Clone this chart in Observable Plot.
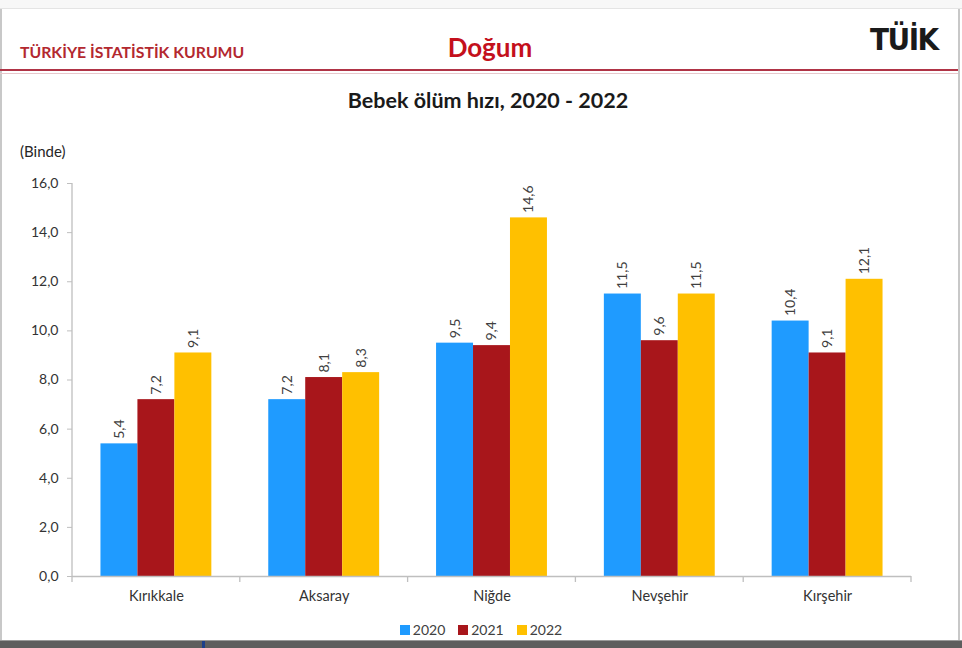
<!DOCTYPE html>
<html>
<head>
<meta charset="utf-8">
<script src="https://cdn.jsdelivr.net/npm/d3@7"></script>
<script src="https://cdn.jsdelivr.net/npm/@observablehq/plot@0.6"></script>
<style>
  html, body { margin: 0; padding: 0; background: #ffffff; }
  body { width: 962px; height: 648px; position: relative; overflow: hidden; font-family: Lato, "Open Sans", sans-serif; }
  .abs { position: absolute; white-space: nowrap; }
  #topstrip { left: 0; top: 0; width: 962px; height: 8px; background: #f7f7f7; border-bottom: 1px solid #e4e4e4; }
  #lborder { left: 0; top: 9px; width: 2px; height: 632px; background: #c8c8c8; }
  #rborder { left: 958px; top: 9px; width: 2px; height: 632px; background: #c8c8c8; }
  #org { left: 20px; top: 42px; font-size: 15.8px; font-weight: 700; color: #b3282f; }
  #sect { left: 0; width: 980px; top: 31px; text-align: center; font-size: 26px; font-weight: 700; color: #c4101c; }
  #logo { left: 870px; top: 21px; font-size: 31px; font-weight: 700; color: #1a1a1a; letter-spacing: -1.5px; font-family: "DejaVu Sans Condensed", "DejaVu Sans", sans-serif; }
  #redline { left: 0; top: 69px; width: 958px; height: 2px; background: #b03446; }
  #redline2 { left: 0; top: 73px; width: 958px; height: 1px; background: #e8c8cc; }
  #title { left: 0; width: 976px; top: 87px; text-align: center; font-size: 21.5px; font-weight: 700; color: #1a1a1a; }
  #unit { left: 20px; top: 142px; font-size: 15px; color: #262626; }
  #chart { left: 0; top: 130px; }
  #legend { left: 0; width: 962px; top: 621px; display: flex; justify-content: center; gap: 13px; font-size: 14px; color: #404040; }
  #legend span.sw { display: inline-block; width: 10px; height: 10px; margin-right: 3px; }
  #bottombar { left: 0; top: 640px; width: 962px; height: 8px; background: #5e5e5e; border-top: 1px solid #9a9a9a; }
  #bmark { left: 202px; top: 641px; width: 3px; height: 7px; background: #1d3f8a; }
</style>
</head>
<body>
<div id="topstrip" class="abs"></div>
<div id="lborder" class="abs"></div>
<div id="rborder" class="abs"></div>
<div id="org" class="abs">TÜRKİYE İSTATİSTİK KURUMU</div>
<div id="sect" class="abs">Doğum</div>
<div id="logo" class="abs">TÜİK</div>
<div id="redline" class="abs"></div>
<div id="redline2" class="abs"></div>
<div id="title" class="abs">Bebek ölüm hızı, 2020 - 2022</div>
<div id="unit" class="abs">(Binde)</div>
<div id="chart" class="abs"></div>
<div id="legend" class="abs"></div>
<div id="bottombar" class="abs"></div>
<div id="bmark" class="abs"></div>
<script>
const cities = ["Kırıkkale", "Aksaray", "Niğde", "Nevşehir", "Kırşehir"];
const years = ["2020", "2021", "2022"];
const colors = ["#1f9bff", "#a8161b", "#ffc000"];
const values2020 = [5.4, 7.2, 9.5, 11.5, 10.4];
const values2021 = [7.2, 8.1, 9.4, 9.6, 9.1];
const values2022 = [9.1, 8.3, 14.6, 11.5, 12.1];
const yTicks = [0, 2, 4, 6, 8, 10, 12, 14, 16];

const series = [values2020, values2021, values2022];
const data = [];
cities.forEach((c, i) => years.forEach((y, j) => data.push({city: c, year: y, value: series[j][i]})));

const fmt = v => v.toFixed(1).replace(".", ",");
const axisColor = "#bfbfbf";

const plot = Plot.plot({
  width: 962,
  height: 480,
  marginLeft: 72,
  marginRight: 51,
  marginTop: 53,
  marginBottom: 34,
  style: {fontFamily: "Lato, 'Open Sans', sans-serif", background: "transparent", color: "#404040"},
  fx: {domain: cities, padding: 0, round: false, label: null, axis: null},
  x: {domain: years, paddingInner: 0, paddingOuter: 0.77, round: false, axis: null},
  y: {domain: [0, 16], label: null},
  color: {domain: years, range: colors},
  marks: [
    Plot.barY(data, {fx: "city", x: "year", y: "value", fill: "year"}),
    Plot.text(data, {fx: "city", x: "year", y: "value", text: d => fmt(d.value), rotate: -90, textAnchor: "start", dy: -5, fontSize: 14, fill: "#404040"}),
    Plot.ruleY([0], {stroke: axisColor, strokeWidth: 1.3}),
    Plot.axisY({ticks: yTicks, tickFormat: fmt, tickSize: 5, tickPadding: 9, fontSize: 14, stroke: axisColor, fill: "#333", label: null}),
    Plot.axisFx({anchor: "bottom", tickSize: 0, tickPadding: 14, fontSize: 14.5, fill: "#333", label: null})
  ]
});
document.getElementById("chart").appendChild(plot);

// axis line and category separator ticks, placed with the plot's own scales
const fx = plot.scale("fx"), ys = plot.scale("y");
const svg = d3.select(plot);
const x0 = fx.apply(cities[0]);
const y0 = ys.apply(0), yTop = ys.apply(16);
svg.append("line").attr("x1", x0).attr("x2", x0).attr("y1", yTop).attr("y2", y0)
  .attr("stroke", axisColor).attr("stroke-width", 1.3);
const edges = cities.map(c => fx.apply(c)).concat([fx.apply(cities[cities.length - 1]) + fx.bandwidth]);
svg.append("g").selectAll("line").data(edges).join("line")
  .attr("x1", d => d).attr("x2", d => d).attr("y1", y0).attr("y2", y0 + 6)
  .attr("stroke", axisColor).attr("stroke-width", 1.3);

// legend
const lg = document.getElementById("legend");
years.forEach((y, i) => {
  const item = document.createElement("span");
  item.innerHTML = `<span class="sw" style="background:${colors[i]}"></span>${y}`;
  lg.appendChild(item);
});
</script>
</body>
</html>
